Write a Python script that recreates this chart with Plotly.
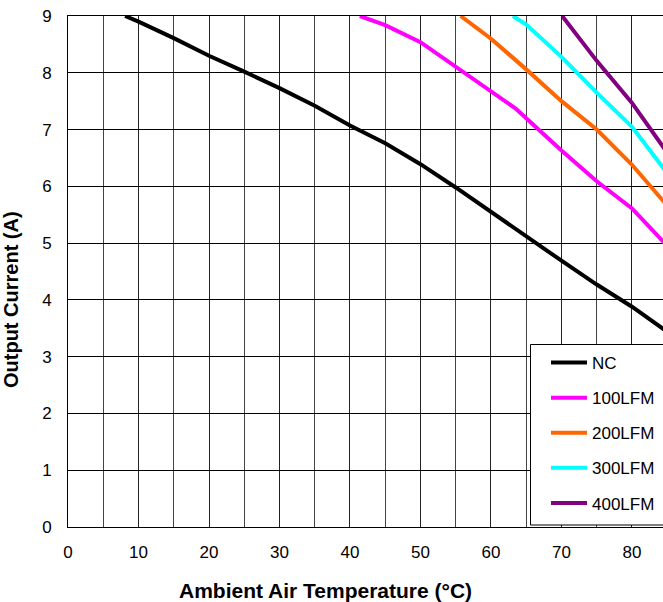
import plotly.graph_objects as go

# Data
nc_t = [8.1, 10, 15, 20, 25, 30, 35, 40, 45, 50, 55, 60, 65, 70, 75, 80, 85]
nc_i = [9.0, 8.9, 8.61, 8.3, 8.02, 7.73, 7.42, 7.07, 6.76, 6.39, 5.98, 5.55, 5.10, 4.69, 4.27, 3.88, 3.44]

lfm100_t = [41.4, 45, 50, 55, 60, 63.5, 65, 70, 75, 80, 85]
lfm100_i = [9.0, 8.84, 8.54, 8.1, 7.68, 7.37, 7.2, 6.63, 6.09, 5.61, 4.95]

lfm200_t = [55.7, 60, 65, 70, 75, 80, 85]
lfm200_i = [9.0, 8.6, 8.06, 7.5, 7.0, 6.38, 5.66]

lfm300_t = [63.1, 65, 70, 75, 80, 85]
lfm300_i = [9.0, 8.85, 8.28, 7.65, 7.05, 6.23]

lfm400_t = [70.1, 75, 80, 85]
lfm400_i = [9.0, 8.21, 7.47, 6.59]

names = ["NC", "100LFM", "200LFM", "300LFM", "400LFM"]
colors = ["#000000", "#FF00FF", "#FF6600", "#00FFFF", "#800080"]
series = [(nc_t, nc_i), (lfm100_t, lfm100_i), (lfm200_t, lfm200_i),
          (lfm300_t, lfm300_i), (lfm400_t, lfm400_i)]

x_ticks = [0, 10, 20, 30, 40, 50, 60, 70, 80]
y_ticks = [0, 1, 2, 3, 4, 5, 6, 7, 8, 9]

FONT = "Liberation Sans, Arial, sans-serif"

# plot area geometry (pixels)
L, T, B = 68, 16, 75
PW, PH = 663 - L, 602 - T - B


def px_x(p):
    return (p - L) / PW


def px_y(p):
    return (602 - B - p) / PH


fig = go.Figure()
for (t, i), n, c in zip(series, names, colors):
    fig.add_trace(go.Scatter(x=t, y=i, mode="lines", name=n, legendgroup=n,
                             line=dict(color=c, width=4)))

fig.update_layout(
    width=663, height=602,
    margin=dict(l=L, r=0, t=T, b=B),
    paper_bgcolor="white", plot_bgcolor="white",
    font=dict(family=FONT, size=17, color="black"),
    showlegend=True,
    legend=dict(x=px_x(546), xanchor="left", y=px_y(345), yanchor="top",
                borderwidth=0, bgcolor="rgba(0,0,0,0)",
                font=dict(family=FONT, size=17, color="black"),
                itemwidth=36, tracegroupgap=10, traceorder="grouped"),
    shapes=[dict(type="rect", xref="paper", yref="paper",
                 x0=px_x(530.5), x1=px_x(680), y0=px_y(525), y1=px_y(344.5),
                 fillcolor="white", line=dict(color="black", width=1), layer="above")],
    xaxis=dict(range=[0, 84.4], tickvals=x_ticks, showgrid=True, gridcolor="#222222",
               gridwidth=1, minor=dict(dtick=5, showgrid=True, gridcolor="#444444", gridwidth=1),
               showline=True, linecolor="black", linewidth=1, mirror=True,
               ticks="outside", ticklen=10, tickcolor="rgba(0,0,0,0)",
               zeroline=False, fixedrange=True),
    yaxis=dict(range=[0, 9], tickvals=y_ticks, showgrid=True, gridcolor="black", gridwidth=1,
               showline=True, linecolor="black", linewidth=1, mirror=True,
               ticks="outside", ticklen=12, tickcolor="rgba(0,0,0,0)",
               zeroline=False, fixedrange=True),
    annotations=[
        dict(text="<b>Ambient Air Temperature (°C)</b>", xref="paper", yref="paper",
             x=px_x(325), y=px_y(590), xanchor="center", yanchor="middle",
             showarrow=False, font=dict(family=FONT, size=21, color="black")),
        dict(text="<b>Output Current (A)</b>", xref="paper", yref="paper",
             x=px_x(11), y=px_y(300), xanchor="center", yanchor="middle", textangle=-90,
             showarrow=False, font=dict(family=FONT, size=20, color="black")),
    ],
)

fig.write_html("out.html")
